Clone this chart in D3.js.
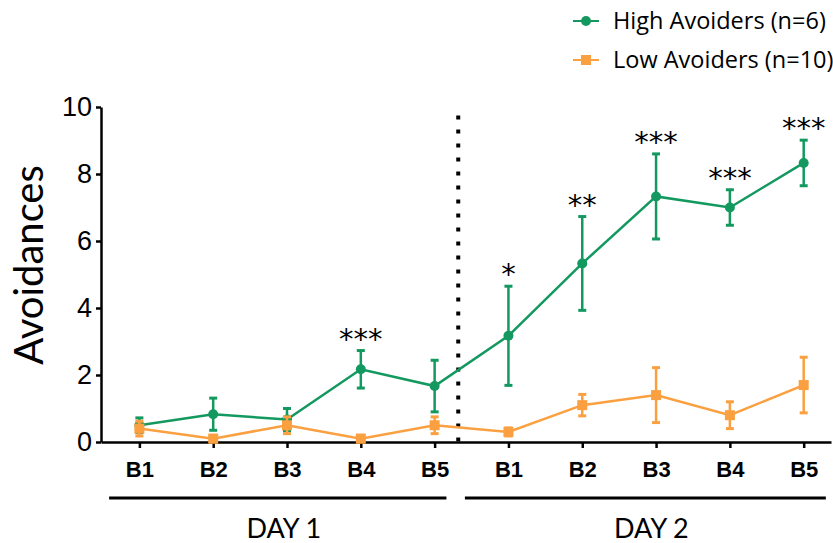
<!DOCTYPE html>
<html>
<head>
<meta charset="utf-8">
<script src="https://cdn.jsdelivr.net/npm/d3@7/dist/d3.min.js"></script>
<style>
  body { margin: 0; background: #fff; }
  svg { display: block; font-family: Lato, "DejaVu Sans", sans-serif; }
</style>
</head>
<body>
<div id="chart"></div>
<script>
// blocks shown on the x axis (two days of five blocks each)
const blockLabels = ["B1", "B2", "B3", "B4", "B5", "B1", "B2", "B3", "B4", "B5"];
const dayLabels = ["DAY 1", "DAY 2"];

// mean avoidances and SEM
const highMean = [0.5, 0.83, 0.67, 2.17, 1.67, 3.17, 5.33, 7.33, 7.0, 8.33];
const highSem  = [0.22, 0.48, 0.33, 0.56, 0.77, 1.48, 1.4, 1.27, 0.53, 0.68];
const lowMean  = [0.4, 0.1, 0.5, 0.1, 0.5, 0.3, 1.1, 1.4, 0.8, 1.7];
const lowSem   = [0.22, 0.1, 0.25, 0.1, 0.25, 0.12, 0.32, 0.82, 0.4, 0.83];
const stars    = ["", "", "", "***", "", "*", "**", "***", "***", "***"];
const yTicks   = [0, 2, 4, 6, 8, 10];

const green = "#13995f";
const orange = "#fba040";

const width = 833, height = 543;
const svg = d3.select("#chart").append("svg")
  .attr("width", width)
  .attr("height", height);

const x = d3.scaleLinear().domain([-0.52, 9.37]).range([101, 831]);
const y = d3.scaleLinear().domain([0, 10]).range([442, 107]);

// ---------- axes ----------
const xAxis = svg.append("g")
  .attr("transform", `translate(0,${y(0)})`)
  .call(d3.axisBottom(x)
    .tickValues(d3.range(blockLabels.length))
    .tickFormat(i => blockLabels[i])
    .tickSize(6)
    .tickSizeOuter(0)
    .tickPadding(13));
xAxis.select(".domain").attr("stroke-width", 2.5);
xAxis.selectAll(".tick line").attr("stroke-width", 2.5);
xAxis.selectAll("text")
  .attr("fill", "#000")
  .style("font-size", "22px")
  .style("font-weight", "bold");

const yAxis = svg.append("g")
  .attr("transform", `translate(${x(-0.52)},0)`)
  .call(d3.axisLeft(y)
    .tickValues(yTicks)
    .tickSize(5)
    .tickSizeOuter(0)
    .tickPadding(4));
yAxis.select(".domain").attr("stroke-width", 2.5);
yAxis.selectAll(".tick line").attr("stroke-width", 2.5);
yAxis.selectAll("text")
  .attr("fill", "#000")
  .style("font-size", "27px");

svg.append("text")
  .attr("transform", "rotate(-90)")
  .attr("x", -265)
  .attr("y", 43)
  .attr("text-anchor", "middle")
  .style("font-size", "40px")
  .text("Avoidances");

// dotted separator between the two days
svg.append("line")
  .attr("x1", x(4.32)).attr("x2", x(4.32))
  .attr("y1", y(9.75)).attr("y2", y(0))
  .attr("stroke", "#000")
  .attr("stroke-width", 4)
  .attr("stroke-dasharray", "4,10");

// day brackets under the axis
const daySpan = [[-0.41, 4.16], [4.41, 9.3]];
daySpan.forEach((s, i) => {
  svg.append("line")
    .attr("x1", x(s[0])).attr("x2", x(s[1]))
    .attr("y1", 498).attr("y2", 498)
    .attr("stroke", "#000")
    .attr("stroke-width", 3);
  svg.append("text")
    .attr("x", (x(s[0]) + x(s[1])) / 2 + 6)
    .attr("y", 538)
    .attr("text-anchor", "middle")
    .style("font-size", "27px")
    .text(dayLabels[i]);
});

// ---------- series ----------
function drawSeries(mean, sem, color, shape) {
  const g = svg.append("g");
  const idx = d3.range(mean.length);

  g.append("path")
    .datum(idx)
    .attr("fill", "none")
    .attr("stroke", color)
    .attr("stroke-width", 2.5)
    .attr("d", d3.line().x(i => x(i)).y(i => y(mean[i])));

  const eb = g.selectAll(".err").data(idx).enter().append("g");
  eb.append("line")
    .attr("x1", i => x(i)).attr("x2", i => x(i))
    .attr("y1", i => y(mean[i] + sem[i])).attr("y2", i => y(Math.max(0, mean[i] - sem[i])))
    .attr("stroke", color).attr("stroke-width", 2.5);
  [1, -1].forEach(sgn => {
    eb.append("line")
      .attr("x1", i => x(i) - 4).attr("x2", i => x(i) + 4)
      .attr("y1", i => y(Math.max(0, mean[i] + sgn * sem[i])))
      .attr("y2", i => y(Math.max(0, mean[i] + sgn * sem[i])))
      .attr("stroke", color).attr("stroke-width", 3);
  });

  if (shape === "circle") {
    g.selectAll("circle").data(idx).enter().append("circle")
      .attr("cx", i => x(i)).attr("cy", i => y(mean[i]))
      .attr("r", 5).attr("fill", color);
  } else {
    g.selectAll("rect").data(idx).enter().append("rect")
      .attr("x", i => x(i) - 5).attr("y", i => y(mean[i]) - 5)
      .attr("width", 10).attr("height", 10).attr("fill", color);
  }
}

drawSeries(highMean, highSem, green, "circle");
drawSeries(lowMean, lowSem, orange, "square");

// significance stars above the high avoiders
svg.selectAll(".star").data(d3.range(stars.length).filter(i => stars[i])).enter()
  .append("text")
  .attr("x", i => x(i))
  .attr("y", i => y(highMean[i] + highSem[i]) - 2)
  .attr("text-anchor", "middle")
  .style("font-family", "'DejaVu Sans', sans-serif")
  .style("font-size", "29px")
  .text(i => stars[i]);

// ---------- legend ----------
const legend = [
  { label: "High Avoiders (n=6)", color: green, shape: "circle" },
  { label: "Low Avoiders (n=10)", color: orange, shape: "square" }
];
legend.forEach((d, i) => {
  const cy = 21 + i * 39;
  svg.append("line")
    .attr("x1", 573).attr("x2", 599)
    .attr("y1", cy).attr("y2", cy)
    .attr("stroke", d.color).attr("stroke-width", 2);
  if (d.shape === "circle") {
    svg.append("circle").attr("cx", 586).attr("cy", cy).attr("r", 5).attr("fill", d.color);
  } else {
    svg.append("rect").attr("x", 581).attr("y", cy - 5).attr("width", 10).attr("height", 10).attr("fill", d.color);
  }
  svg.append("text")
    .attr("x", 613).attr("y", cy + 8)
    .style("font-family", "'Open Sans', sans-serif")
    .style("font-size", "23.5px")
    .text(d.label);
});
</script>
</body>
</html>
